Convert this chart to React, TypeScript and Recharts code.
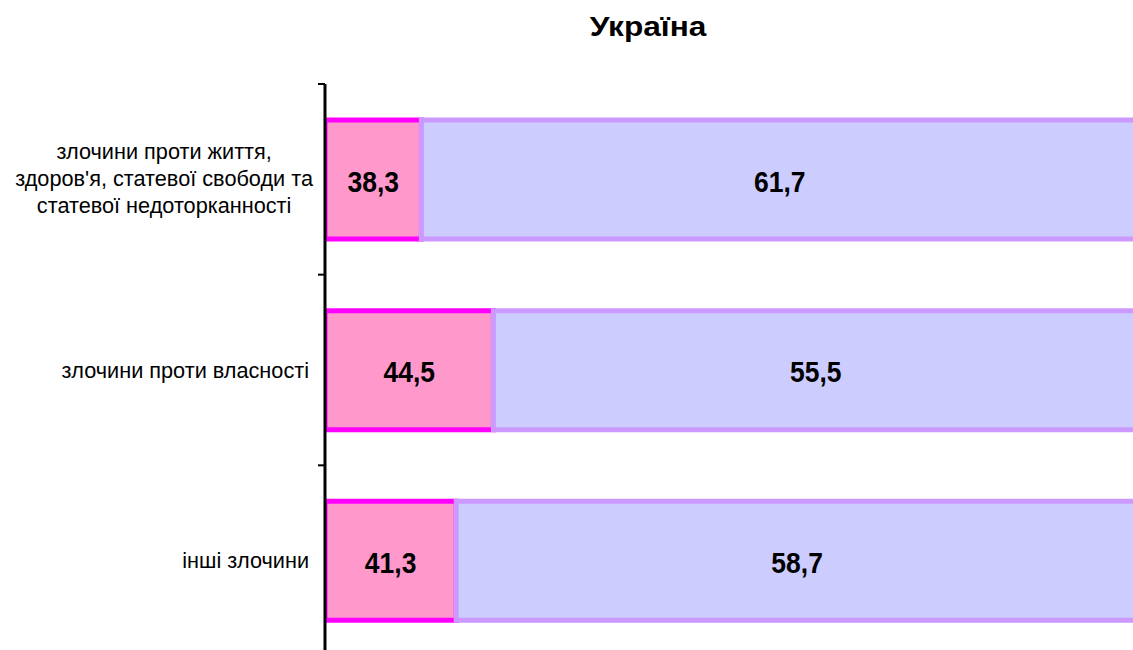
import React from 'react';
import { BarChart, Bar, XAxis, YAxis, LabelList } from 'recharts';

const title = 'Україна';
const categories = [
  "злочини проти життя, здоров'я, статевої свободи та статевої недоторканності",
  'злочини проти власності',
  'інші злочини',
];
const categoryLines = [
  ['злочини проти життя,', "здоров'я, статевої свободи та", 'статевої недоторканності'],
  ['злочини проти власності'],
  ['інші злочини'],
];
const womenShare = [38.3, 44.5, 41.3];
const menShare = [61.7, 55.5, 58.7];
const axisMin = 30;
const axisMax = 100;

const data = categories.map((c, i) => ({
  category: c,
  women: womenShare[i],
  men: menShare[i],
  womenRange: [axisMin, womenShare[i]],
  menRange: [womenShare[i], womenShare[i] + menShare[i]],
}));

const FONT = '"Liberation Sans", Arial, sans-serif';
const TICK_FS = 21.7;
const CH = 660;
const MT = 76;
const MB = 12;
const BAND = (CH - MT - MB) / categories.length;
const TICK_MARGIN = 16;
const TICK_LEN = 7;

let ctx: CanvasRenderingContext2D | null = null;
const measure = (s: string) => {
  if (!ctx) ctx = document.createElement('canvas').getContext('2d');
  if (!ctx) return s.length * TICK_FS * 0.5;
  ctx.font = `${TICK_FS}px "Liberation Sans"`;
  return ctx.measureText(s).width;
};

const CategoryTick = (props: any) => {
  const { x, y, payload } = props;
  const idx = categories.indexOf(payload.value);
  const lines = categoryLines[idx] ?? [String(payload.value)];
  const axisX = x + TICK_MARGIN;
  const marks = [y - BAND / 2];
  if (idx === categories.length - 1) marks.push(y + BAND / 2);
  const tickMarks = marks.map((ty, i) => (
    <line key={'t' + i} x1={axisX - TICK_LEN} x2={axisX} y1={ty} y2={ty} stroke="#000" strokeWidth={2} />
  ));
  if (lines.length === 1) {
    return (
      <g>
        {tickMarks}
        <text x={x} y={y} dy="0.355em" textAnchor="end" fontSize={TICK_FS} fontFamily={FONT} fill="#000">
          {lines[0]}
        </text>
      </g>
    );
  }
  const maxW = Math.max(...lines.map(measure));
  const cx = axisX - 12 - maxW / 2;
  const lh = 27;
  const start = -((lines.length - 1) * lh) / 2;
  return (
    <g>
      {tickMarks}
      {lines.map((l, i) => (
        <text key={i} x={cx} y={y + start + i * lh - 1} dy="0.355em" textAnchor="middle" fontSize={TICK_FS} fontFamily={FONT} fill="#000">
          {l}
        </text>
      ))}
    </g>
  );
};

const fmt = (v: any) => Number(v).toFixed(1).replace('.', ',');

const ValueLabel = (props: any) => {
  const { x, y, width, height, value } = props;
  const cx = Number(x) + Number(width) / 2;
  const cy = Number(y) + Number(height) / 2;
  return (
    <text
      transform={`translate(${cx},${cy}) scale(1,1.1)`}
      x={0}
      y={0}
      dy="0.42em"
      textAnchor="middle"
      fontSize={26.5}
      fontWeight="bold"
      fontFamily={FONT}
      fill="#000"
    >
      {fmt(value)}
    </text>
  );
};

export default function App() {
  return (
    <div style={{ position: 'fixed', left: 8, top: 8, width: 1125, height: 642, overflow: 'hidden', background: '#fff' }}>
      <div
        style={{
          position: 'absolute',
          left: 640,
          top: 6,
          transform: 'translateX(-50%) scaleX(1.17)',
          fontFamily: FONT,
          fontWeight: 'bold',
          fontSize: 27,
          lineHeight: '27px',
          whiteSpace: 'nowrap',
          color: '#000',
        }}
      >
        {title}
      </div>
      <BarChart
        width={1140}
        height={CH}
        data={data}
        layout="vertical"
        margin={{ top: MT, right: 10, bottom: MB, left: 0 }}
        barGap={-119}
        barSize={119}
      >
        <XAxis type="number" domain={[axisMin, axisMax]} hide allowDataOverflow />
        <YAxis
          type="category"
          dataKey="category"
          width={317}
          axisLine={{ stroke: '#000', strokeWidth: 3 }}
          tickLine={false}
          tickSize={0}
          tickMargin={TICK_MARGIN}
          tick={<CategoryTick />}
          interval={0}
        />
        <Bar dataKey="womenRange" name="жінки" fill="#FF99CC" stroke="#FF00FF" strokeWidth={5} isAnimationActive={false}>
          <LabelList dataKey="women" position="center" content={<ValueLabel />} />
        </Bar>
        <Bar dataKey="menRange" name="чоловіки" fill="#CCCCFF" stroke="#CC99FF" strokeWidth={5} isAnimationActive={false}>
          <LabelList dataKey="men" position="center" content={<ValueLabel />} />
        </Bar>
      </BarChart>
    </div>
  );
}
